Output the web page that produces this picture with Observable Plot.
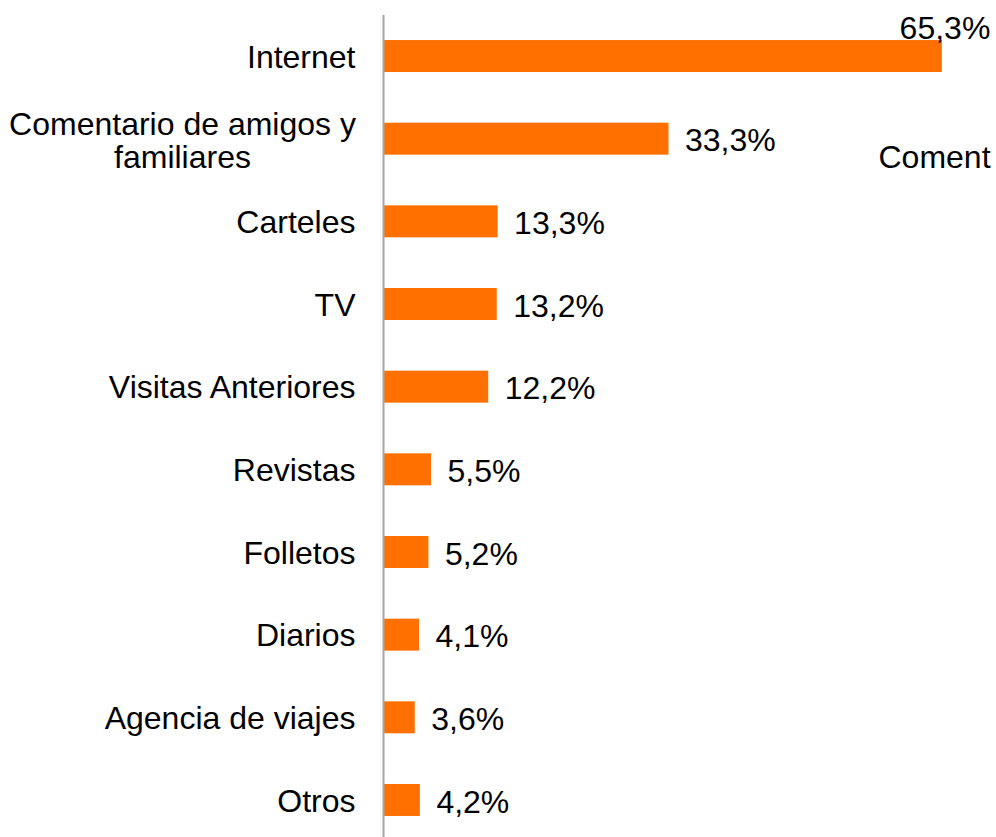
<!DOCTYPE html>
<html>
<head>
<meta charset="utf-8">
<script src="https://cdn.jsdelivr.net/npm/d3@7"></script>
<script src="https://cdn.jsdelivr.net/npm/@observablehq/plot@0.6"></script>
<style>
  html, body { margin: 0; padding: 0; background: #fff; overflow: hidden; }
  #chart { width: 996px; height: 837px; overflow: hidden; }
</style>
</head>
<body>
<div id="chart"></div>
<script>
const categories = ["Internet", "Comentario de amigos y familiares", "Carteles", "TV", "Visitas Anteriores", "Revistas", "Folletos", "Diarios", "Agencia de viajes", "Otros"];
const displayLabels = ["Internet", "Comentario de amigos y\nfamiliares", "Carteles", "TV", "Visitas Anteriores", "Revistas", "Folletos", "Diarios", "Agencia de viajes", "Otros"];
const values = [65.3, 33.3, 13.3, 13.2, 12.2, 5.5, 5.2, 4.1, 3.6, 4.2];
const valueLabels = ["65,3%", "33,3%", "13,3%", "13,2%", "12,2%", "5,5%", "5,2%", "4,1%", "3,6%", "4,2%"];
const legendText = "Coment";

const data = categories.map((c, i) => ({cat: c, label: displayLabels[i], value: values[i], vlabel: valueLabels[i], i}));
const font = "Liberation Sans, Arial, sans-serif";

const chart = Plot.plot({
  width: 996,
  height: 837,
  marginLeft: 384,
  marginRight: 14,
  marginTop: 15,
  marginBottom: 0,
  style: {fontFamily: font, background: "#fff", overflow: "hidden"},
  x: {domain: [0, 70], axis: null},
  y: {domain: categories, range: [14.7, 841.3], paddingInner: 0.613, paddingOuter: 0.3065, round: false, axis: null},
  marks: [
    Plot.barX(data, {x: "value", y: "cat", fill: "#ff7000"}),
    Plot.ruleX([0], {stroke: "#a6a6a6", strokeWidth: 2, dx: -1}),
    // category labels (single line, right-aligned)
    Plot.text(data.filter(d => !d.label.includes("\n")), {
      y: "cat", text: "label", frameAnchor: "left", textAnchor: "end", dx: -29, dy: 1,
      fontSize: 32, fill: "#000"
    }),
    // wrapped category label (centered)
    Plot.text(data.filter(d => d.label.includes("\n")), {
      y: "cat", text: "label", frameAnchor: "left", textAnchor: "middle", dx: -202, dy: 2,
      fontSize: 32, lineHeight: 1.04, fill: "#000"
    }),
    // value labels
    Plot.text(data.filter(d => d.i !== 0), {
      x: "value", y: "cat", text: "vlabel", textAnchor: "start", dx: 16, dy: 2,
      fontSize: 32, fill: "#000"
    }),
    Plot.text(data.filter(d => d.i === 0), {
      x: "value", y: "cat", text: "vlabel", textAnchor: "end", dx: 48, dy: -28,
      fontSize: 32, fill: "#000"
    }),
    // truncated legend text at right
    Plot.text([legendText], {
      y: [categories[1]], text: d => d, frameAnchor: "right", textAnchor: "start", dx: -104, dy: 19,
      fontSize: 32, fill: "#000"
    })
  ]
});
document.getElementById("chart").appendChild(chart);
</script>
</body>
</html>
